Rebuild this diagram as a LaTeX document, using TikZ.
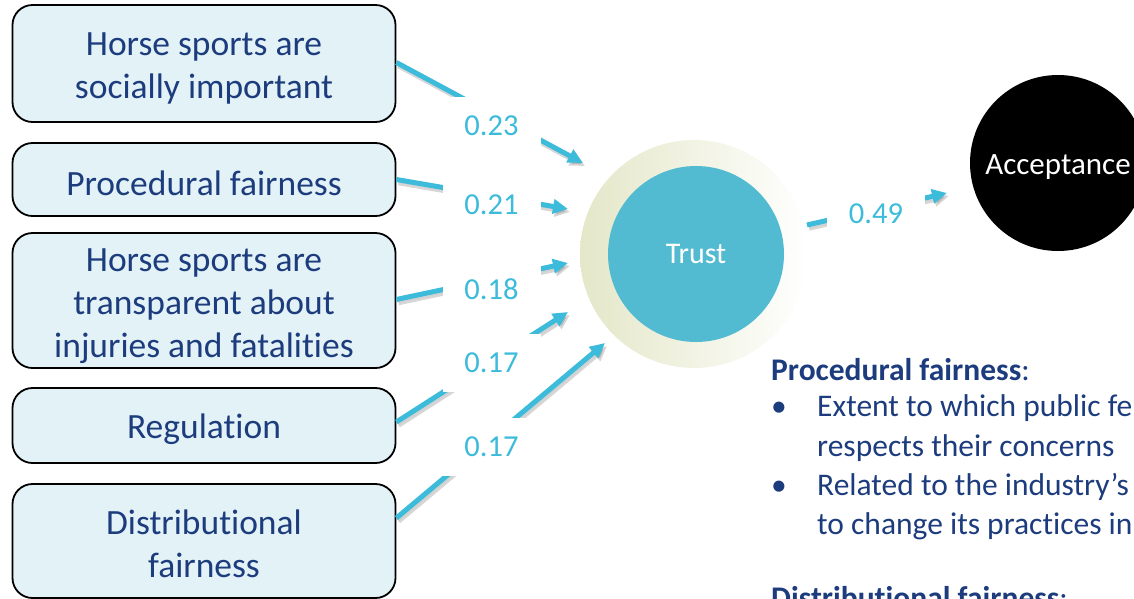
\documentclass[tikz,border=0pt]{standalone}
\usepackage{fontspec}
\setmainfont{Carlito}[RawFeature=-liga,RawFeature=-clig,RawFeature=-calt,RawFeature=-dlig]
\usetikzlibrary{arrows.meta}
\definecolor{navy}{RGB}{28,60,125}
\definecolor{cyanarrow}{RGB}{60,187,218}
\definecolor{trustfill}{RGB}{82,187,209}
\definecolor{boxfill}{RGB}{227,242,246}
\definecolor{halo}{RGB}{228,231,200}
\begin{document}
\begin{tikzpicture}[x=1pt,y=-1pt,
  box/.style={draw=black, line width=1.8pt, rounded corners=20pt, fill=boxfill,
    minimum width=383pt, inner sep=0pt},
  boxtext/.style={align=center, text=navy, inner sep=0pt,
    font=\fontsize{35.5}{43}\selectfont},
  coef/.style={fill=white, minimum width=98pt, minimum height=58pt, inner sep=0pt,
    text=cyanarrow, font=\fontsize{30.5}{36}\selectfont},
  link/.style={draw=cyanarrow, line width=5pt, -{Triangle[length=15pt,width=14pt]}},
  linkshadow/.style={draw=black, fill=black, opacity=0.16, line width=5.5pt,
    -{Triangle[length=15pt,width=14pt]},
    transform canvas={shift={(2pt,-3pt)}}},
  bodytext/.style={anchor=base west, inner sep=0pt, text=navy,
    font=\fontsize{31.5}{39}\selectfont}
]
\useasboundingbox (0,0) rectangle (1134,598);
\clip (0,0) rectangle (1134,598);

% boxes
\node[box, minimum height=117pt] (b1) at (204,63.5) {};
\node[box, minimum height=73pt]  (b2) at (204,179.5) {};
\node[box, minimum height=135pt] (b3) at (204,300.5) {};
\node[box, minimum height=75pt]  (b4) at (204,425.5) {};
\node[box, minimum height=114pt] (b5) at (204,541) {};
\node[boxtext] (t1) at ([yshift=-5pt]b1.center) {Horse sports are\\socially important};
\node[boxtext] (t2) at ([yshift=-4pt]b2.center) {Procedural fairness};
\node[boxtext] (t3) at ([yshift=-6pt]b3.center) {Horse sports are\\transparent about\\injuries and fatalities};
\node[boxtext] (t4) at ([yshift=-4pt]b4.center) {Regulation};
\node[boxtext] (t5) at ([yshift=-3pt]b5.center) {Distributional\\fairness};

% trust with halo
\shade[left color=halo, right color=white] (694,254) circle (114pt);
\node[circle, fill=trustfill, minimum size=176pt, inner sep=0pt, text=white,
  font=\fontsize{30}{36}\selectfont] (trust) at (696,254) {Trust};

% acceptance
\node[circle, fill=black, minimum size=176pt, inner sep=0pt, text=white,
  font=\fontsize{31}{37}\selectfont] (acc) at (1058,163) {\raisebox{-4pt}[\height][\depth]{Acceptance}};

% connector coordinates
\coordinate (s1) at ([yshift=1pt]b1.east);
\coordinate (s2) at (b2.east);
\coordinate (s3) at ([yshift=1pt]b3.east);
\coordinate (s4) at ([yshift=3.5pt]b4.east);
\coordinate (s5) at ([yshift=23pt]b5.east);
\coordinate (e1) at (583,163);
\coordinate (e2) at (568,209);
\coordinate (e3) at (568,263);
\coordinate (e4) at (568,312);
\coordinate (e5) at (605,343);
\coordinate (s6) at (807,225);
\coordinate (e6) at (947,193);

% shadows
\foreach \a/\b in {s1/e1,s2/e2,s3/e3,s4/e4,s5/e5,s6/e6}
  \draw[linkshadow] (\a) -- (\b);
% arrows
\foreach \a/\b in {s1/e1,s2/e2,s3/e3,s4/e4,s5/e5,s6/e6}
  \draw[link] (\a) -- (\b);

% coefficient labels
\node[coef] (l1) at (491.5,126) {0.23};
\node[coef] (l2) at (491.5,205) {0.21};
\node[coef] (l3) at (491.5,289) {0.18};
\node[coef] (l4) at (491.5,363) {0.17};
\node[coef] (l5) at (491.5,447) {0.17};
\node[coef] (l6) at (876,214) {0.49};

% right-hand text
\node[bodytext] (h1) at (771,380) {\textbf{Procedural fairness}:};
\node[bodytext] (bu1) at (771,416) {•};
\node[bodytext] (x1) at (817,416) {Extent to which public fe};
\node[bodytext] (x2) at (817,456) {respects their concerns};
\node[bodytext] (bu2) at (771,495) {•};
\node[bodytext] (x3) at (817,495) {Related to the industry’s};
\node[bodytext] (x4) at (817,534) {to change its practices in};
\node[bodytext] (h2) at (771,608) {\textbf{Distributional fairness}:};
\end{tikzpicture}
\end{document}
